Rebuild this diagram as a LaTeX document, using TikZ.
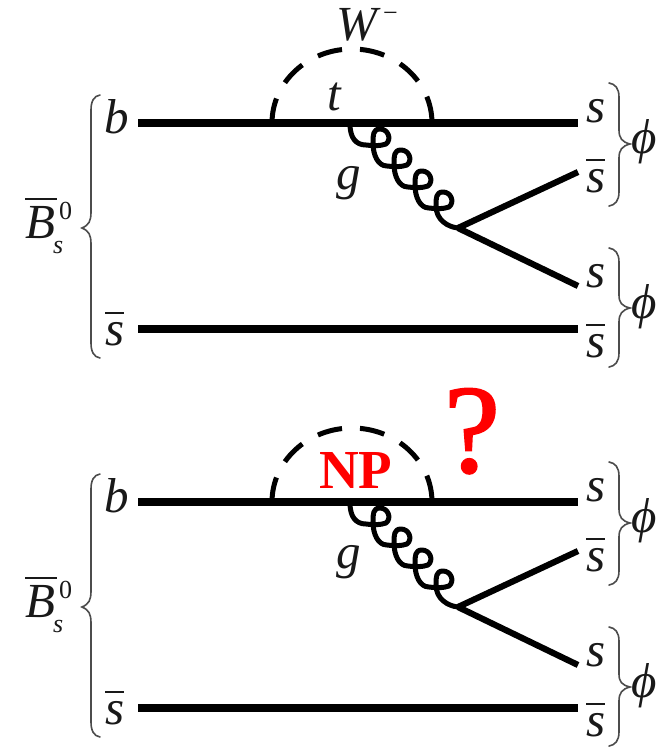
\documentclass[tikz,border=0pt]{standalone}
\usepackage{fontspec}
\setmainfont{Liberation Serif}
\newfontfamily\qfont[FakeBold=1.6]{Liberation Serif}
\newcommand{\ovl}[2]{\vbox{\hrule height 1.6pt \kern #2 \hbox{#1}}}
\newcommand{\lsmall}{\fontsize{26}{26}\selectfont}
\newcommand{\lbig}{\fontsize{49}{49}\selectfont}
% one gluon coil: from the foot of a coil round the loop and down to the next foot
\newcommand{\coilhead}{
  .. controls +(9,1) and +(-6,2) .. ++(20,-1)
  .. controls +(6,-5) and +(8,0) .. ++(-6,-15)
  .. controls +(-7,0) and +(0,-8) .. ++(-7,14)
}
\newcommand{\coil}{
  \coilhead
  .. controls +(0,12) and +(-9,0) .. ++(14,23)
}
\tikzset{
  fermion/.style={line width=7.6pt,black},
  branch/.style={line width=6.2pt,black},
  wboson/.style={line width=5pt,dash pattern=on 25pt off 18pt,black},
  gluon/.style={line width=5pt,line join=round,line cap=round,black},
  bracepath/.style={line width=1.6pt,black!70,line cap=round},
  lab/.style={anchor=base west,inner sep=0pt,outer sep=0pt,text=black!90,font=\lbig},
  redlab/.style={anchor=base west,inner sep=0pt,outer sep=0pt,text=red},
}
\newcommand{\feyn}{
  \coordinate (bl) at (138,123);
  \coordinate (br) at (578,123);
  \coordinate (sl) at (138,329);
  \coordinate (sr) at (578,329);
  \coordinate (v) at (458,228);
  \coordinate (up) at (578,172);
  \coordinate (dn) at (578,286);
  \coordinate (wl) at (272,123);
  \coordinate (gs) at (350,124);
  \draw[fermion] (bl) -- (br);
  \draw[fermion] (sl) -- (sr);
  \draw[branch] (v) -- (up);
  \draw[branch] (v) -- (dn);
  \draw[wboson] (wl) arc[start angle=180,end angle=360,x radius=80,y radius=74];
  \draw[gluon] (gs) .. controls +(0,14) and +(-10,0) .. (366,145)
    \coil \coil \coil \coilhead
    .. controls +(0,14) and +(-10,-1) .. (v);
  % braces
  \draw[bracepath] (100,95) .. controls (94,96) and (91,101) .. (91,110)
    -- (91,212) .. controls (91,221) and (89,225) .. (82,228)
    .. controls (89,231) and (91,235) .. (91,244)
    -- (91,343) .. controls (91,352) and (94,357) .. (100,358);
  \draw[bracepath] (609,83) .. controls (615,84) and (619,88) .. (619,97)
    -- (619,130) .. controls (619,138) and (622,142) .. (630,144)
    .. controls (622,146) and (619,150) .. (619,158)
    -- (619,192) .. controls (619,201) and (615,205) .. (609,206);
  \draw[bracepath] (609,248) .. controls (615,249) and (619,253) .. (619,262)
    -- (619,295) .. controls (619,303) and (622,306) .. (630,308)
    .. controls (622,310) and (619,314) .. (619,322)
    -- (619,353) .. controls (619,362) and (615,366) .. (609,367);
  % labels
  \node[lab] (lb) at (104,133) {\itshape b};
  \node[lab] (lsb) at (105,345) {\ovl{\itshape s}{8pt}};
  \node[lab] (rs1) at (586,122) {\itshape s};
  \node[lab] (rsb1) at (586,192) {\ovl{\itshape s}{8pt}};
  \node[lab] (rs2) at (586,287) {\itshape s};
  \node[lab] (rsb2) at (586,357) {\ovl{\itshape s}{8pt}};
  \node[lab] (phi1) at (631,153) {\itshape ϕ};
  \node[lab] (phi2) at (631,318) {\itshape ϕ};
  \node[lab] (g) at (336,189) {\itshape g};
  \node[lab] (B) at (25,238) {\ovl{\itshape B\kern2pt}{6pt}};
  \node[lab,font=\lsmall] (Bs) at (53,253) {\itshape s};
  \node[lab,font=\lsmall] (B0) at (59,219) {0};
}
\begin{document}
\begin{tikzpicture}[x=1pt,y=-1pt]
\useasboundingbox (0,0) rectangle (664,748);
\fill[white] (0,0) rectangle (664,748);
\begin{scope}[name prefix=top-]
  \feyn
  \node[lab] (W) at (336,40) {\itshape W};
  \node[lab,font=\lsmall] (Wm) at (383,21) {−};
  \node[lab] (t) at (327,110) {\itshape t};
\end{scope}
\begin{scope}[name prefix=bot-,yshift=-379pt]
  \feyn
\end{scope}
\node[redlab,font=\fontsize{55}{55}\selectfont\bfseries] (np) at (319,488) {NP};
\node[redlab,font=\fontsize{126}{126}\selectfont\qfont] (q) at (444,472) {?};
\end{tikzpicture}
\end{document}
